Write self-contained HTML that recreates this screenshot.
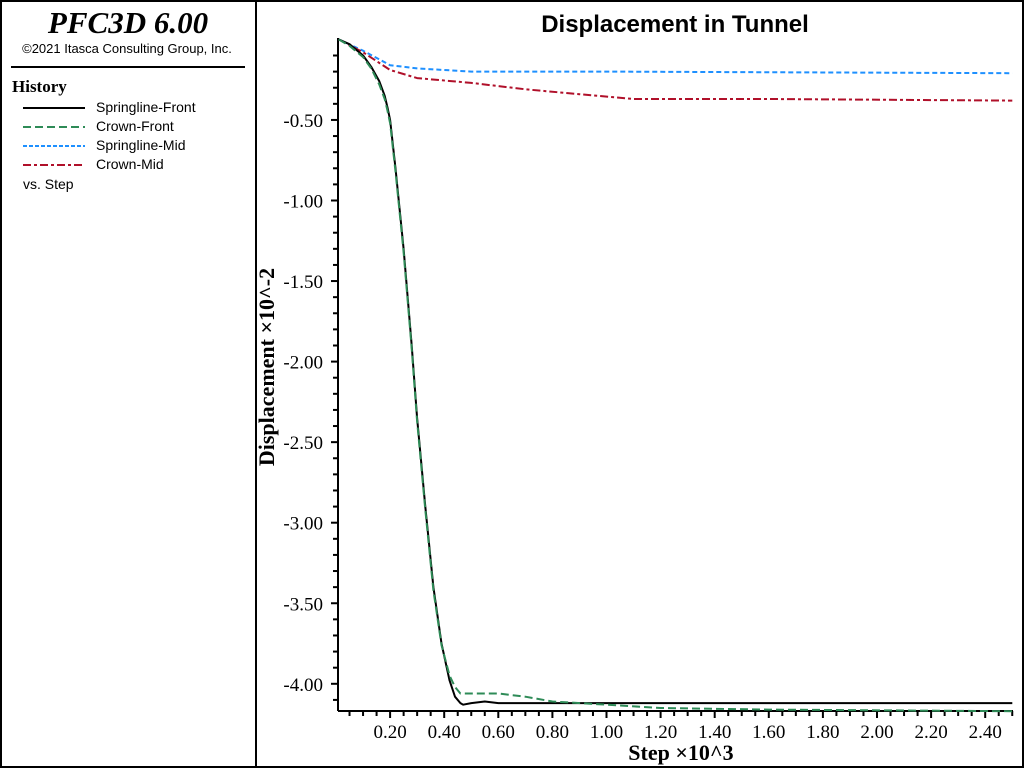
<!DOCTYPE html>
<html><head><meta charset="utf-8"><style>
body{margin:0;background:#fff;width:1024px;height:768px;overflow:hidden}
svg{display:block}
</style></head><body>
<svg id="c" width="1024" height="768">
<rect x="1" y="1" width="1022" height="766" fill="#fff" stroke="#000" stroke-width="2"/>
<line x1="256" y1="0" x2="256" y2="768" stroke="#000" stroke-width="2"/>
<g>
<text x="128" y="33" text-anchor="middle" font-family="Liberation Serif" font-style="italic" font-weight="bold" font-size="31">PFC3D 6.00</text>
<text x="127" y="53" text-anchor="middle" font-family="Liberation Sans" font-size="13">©2021 Itasca Consulting Group, Inc.</text>
<line x1="11" y1="67" x2="245" y2="67" stroke="#000" stroke-width="2"/>
<text x="12" y="92" font-family="Liberation Serif" font-weight="bold" font-size="17">History</text>
<g><line x1="23" y1="108" x2="85" y2="108" stroke="#000" stroke-width="2"/><text x="96" y="112" font-family="Liberation Sans" font-size="14">Springline-Front</text></g>
<g><line x1="23" y1="127" x2="85" y2="127" stroke="#2e8b57" stroke-width="2" stroke-dasharray="8,4"/><text x="96" y="131" font-family="Liberation Sans" font-size="14">Crown-Front</text></g>
<g><line x1="23" y1="146" x2="85" y2="146" stroke="#1e90ff" stroke-width="2" stroke-dasharray="4,2"/><text x="96" y="150" font-family="Liberation Sans" font-size="14">Springline-Mid</text></g>
<g><line x1="23" y1="165" x2="85" y2="165" stroke="#b0102a" stroke-width="2" stroke-dasharray="8,3,3,3"/><text x="96" y="169" font-family="Liberation Sans" font-size="14">Crown-Mid</text></g>
<text x="23" y="189" font-family="Liberation Sans" font-size="14">vs. Step</text>
</g>
<text x="675" y="32" text-anchor="middle" font-family="Liberation Sans" font-weight="bold" font-size="24">Displacement in Tunnel</text>
<text x="681" y="760" text-anchor="middle" font-family="Liberation Serif" font-weight="bold" font-size="22">Step ×10^3</text>
<text transform="translate(274,367) rotate(-90)" text-anchor="middle" font-family="Liberation Serif" font-weight="bold" font-size="22">Displacement ×10^-2</text>
<g id="axes"></g>
<g id="series"></g>
</svg>
<script>
const xTickVals=[0.2,0.4,0.6,0.8,1.0,1.2,1.4,1.6,1.8,2.0,2.2,2.4];
const yTickVals=[-0.5,-1.0,-1.5,-2.0,-2.5,-3.0,-3.5,-4.0];
const sfX=[0.01,0.05,0.1,0.13,0.16,0.18,0.19,0.2,0.22,0.25,0.28,0.3,0.33,0.36,0.39,0.42,0.44,0.46,0.47,0.5,0.55,0.6,2.5];
const sfY=[0,-0.03,-0.1,-0.17,-0.26,-0.35,-0.42,-0.5,-0.8,-1.3,-1.9,-2.35,-2.9,-3.4,-3.75,-3.98,-4.08,-4.12,-4.13,-4.12,-4.11,-4.12,-4.12];
const cfX=[0.01,0.05,0.1,0.13,0.16,0.18,0.19,0.2,0.22,0.25,0.28,0.3,0.33,0.36,0.39,0.42,0.44,0.46,0.6,0.7,0.8,1.0,1.2,1.6,2.5];
const cfY=[0,-0.04,-0.11,-0.18,-0.28,-0.37,-0.44,-0.52,-0.82,-1.32,-1.92,-2.37,-2.92,-3.42,-3.76,-3.95,-4.02,-4.06,-4.06,-4.08,-4.11,-4.13,-4.15,-4.16,-4.17];
const smX=[0.01,0.1,0.2,0.3,0.5,1.0,2.5];
const smY=[0,-0.07,-0.16,-0.18,-0.2,-0.2,-0.21];
const cmX=[0.01,0.1,0.2,0.3,0.5,0.7,0.9,1.1,1.6,2.5];
const cmY=[0,-0.08,-0.19,-0.24,-0.27,-0.31,-0.34,-0.37,-0.37,-0.38];
const NS='http://www.w3.org/2000/svg';
const X0=336,XS=270.5,Y0=39.4,YS=161.1,AX=338,AY=711,XE=1013;
const sx=v=>X0+v*XS, sy=v=>Y0-v*YS;
function mk(t,a,p){const e=document.createElementNS(NS,t);for(const k in a)e.setAttribute(k,a[k]);p.appendChild(e);return e;}
const ax=document.getElementById('axes');
const yl=mk('line',{x1:AX,y1:38,x2:AX,y2:AY,stroke:'#000','stroke-width':2},ax);


const xl=mk('line',{x1:AX,y1:AY,x2:XE,y2:AY,stroke:'#000','stroke-width':2},ax);


for(let i=1;i<=50;i++){const x=sx(i*0.05);if(x<AX+2||x>XE)continue;mk('line',{x1:x,y1:AY,x2:x,y2:AY+(i%4==0?7:5),stroke:'#000','stroke-width':2},ax);}
for(let i=1;i<=42;i++){const y=sy(-i*0.1);if(y>AY-2)continue;mk('line',{x1:AX,y1:y,x2:AX-(i%5==0?7:5),y2:y,stroke:'#000','stroke-width':2},ax);}
xTickVals.forEach(v=>{const t=mk('text',{x:sx(v),y:738,'text-anchor':'middle','font-family':'Liberation Serif','font-size':19},ax);t.textContent=v.toFixed(2);

});
yTickVals.forEach(v=>{const t=mk('text',{x:323,y:sy(v)+7,'text-anchor':'end','font-family':'Liberation Serif','font-size':19},ax);t.textContent=v.toFixed(2);

});
const sg=document.getElementById('series');
function line(xs,ys,col,dash,name){const d=xs.map((x,i)=>sx(x).toFixed(1)+','+sy(ys[i]).toFixed(1)).join(' ');
const p=mk('polyline',{points:d,fill:'none',stroke:col,'stroke-width':2,'stroke-linejoin':'round','stroke-dasharray':dash||'none'},sg);

}
line(smX,smY,'#1e90ff','5,3','series-springline-mid');
line(cmX,cmY,'#b0102a','8,3,3,3','series-crown-mid');
line(sfX,sfY,'#000','','series-springline-front');
line(cfX,cfY,'#2e8b57','8,4','series-crown-front');
</script>
</body></html>
